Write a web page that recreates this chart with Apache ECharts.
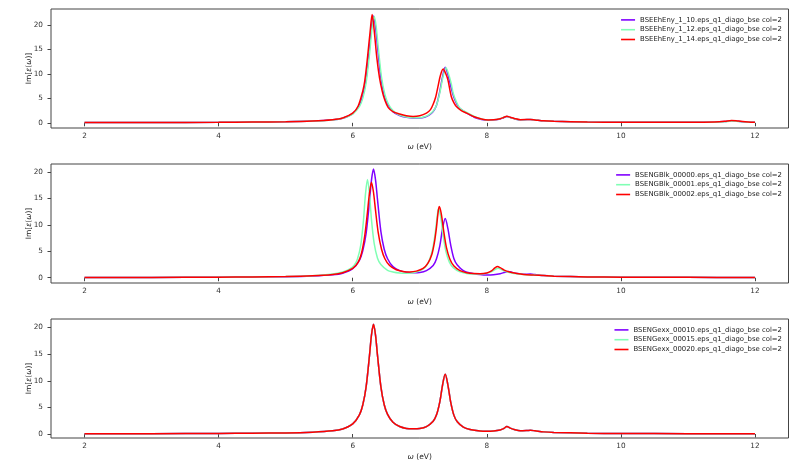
<!DOCTYPE html>
<html>
<head>
<meta charset="utf-8">
<script src="https://cdn.jsdelivr.net/npm/echarts@6/dist/echarts.min.js"></script>
<style>
html, body { margin: 0; padding: 0; background: #fff; }
#main { width: 800px; height: 474px; }
</style>
</head>
<body>
<div id="main"></div>
<script>
// [omega (eV), Im eps]
var ehEny_1_10 = [
    [2.0,0.05],[3.0,0.07],[4.0,0.11],[4.5,0.16],[5.0,0.23],[5.4,0.37],[5.7,0.62],[5.85,0.95],[6.0,1.9],
    [6.1,3.6],[6.15,5.5],[6.2,9.0],[6.25,15.2],[6.28,19.6],[6.31,21.9],[6.34,19.7],[6.37,15.6],[6.42,9.3],
    [6.47,5.8],[6.52,3.9],[6.6,2.3],[6.7,1.5],[6.8,1.15],[6.9,1.0],[7.0,1.0],[7.07,1.15],[7.14,1.6],[7.2,2.3],
    [7.25,3.6],[7.3,6.5],[7.34,9.4],[7.38,11.4],[7.42,9.9],[7.46,7.7],[7.5,5.6],[7.55,3.9],[7.6,2.9],[7.7,2.0],
    [7.82,1.1],[7.92,0.7],[8.02,0.56],[8.12,0.62],[8.2,0.8],[8.25,1.05],[8.3,1.3],[8.35,1.1],[8.42,0.8],[8.5,0.62],
    [8.6,0.66],[8.65,0.68],[8.72,0.58],[8.85,0.4],[9.0,0.3],[9.5,0.17],[10.0,0.12],[10.5,0.1],[11.0,0.1],
    [11.4,0.14],[11.55,0.25],[11.65,0.4],[11.75,0.3],[11.9,0.14],[12.0,0.1]
];
var ehEny_1_12 = [
    [2.0,0.05],[3.0,0.07],[4.0,0.11],[4.5,0.16],[5.0,0.23],[5.4,0.36],[5.7,0.6],[5.85,0.92],[6.0,1.8],
    [6.1,3.3],[6.15,5.0],[6.2,8.2],[6.25,14.0],[6.29,19.6],[6.32,21.8],[6.35,19.7],[6.38,15.6],[6.43,9.3],
    [6.48,5.8],[6.53,3.9],[6.6,2.5],[6.7,1.6],[6.8,1.2],[6.9,1.05],[7.0,1.05],[7.07,1.25],[7.14,1.7],[7.2,2.4],
    [7.25,3.6],[7.3,6.2],[7.35,9.6],[7.39,11.3],[7.43,10.0],[7.47,8.0],[7.5,6.0],[7.55,4.2],[7.6,3.0],[7.72,2.0],
    [7.85,1.1],[7.95,0.7],[8.05,0.58],[8.15,0.68],[8.22,0.95],[8.3,1.3],[8.35,1.1],[8.42,0.8],[8.5,0.62],
    [8.6,0.66],[8.65,0.68],[8.72,0.58],[8.85,0.4],[9.0,0.3],[9.5,0.17],[10.0,0.12],[10.5,0.1],[11.0,0.1],
    [11.4,0.13],[11.55,0.22],[11.65,0.35],[11.75,0.27],[11.9,0.13],[12.0,0.1]
];
var ehEny_1_14 = [
    [2.0,0.05],[3.0,0.07],[4.0,0.11],[4.5,0.16],[5.0,0.23],[5.4,0.38],[5.7,0.65],[5.85,1.0],[6.0,2.0],
    [6.08,3.4],[6.15,6.5],[6.18,8.6],[6.22,13.3],[6.26,18.7],[6.29,22.2],[6.32,19.0],[6.36,13.3],[6.4,9.2],
    [6.44,6.5],[6.48,4.6],[6.53,3.1],[6.6,2.3],[6.7,1.8],[6.8,1.45],[6.9,1.3],[7.0,1.45],[7.1,2.0],[7.16,2.7],
    [7.2,3.8],[7.24,5.4],[7.27,7.3],[7.31,9.8],[7.35,11.0],[7.39,10.0],[7.42,8.8],[7.47,5.4],[7.51,4.1],
    [7.55,3.3],[7.62,2.5],[7.7,2.0],[7.8,1.3],[7.92,0.8],[8.02,0.6],[8.1,0.62],[8.2,0.85],[8.25,1.1],[8.3,1.35],
    [8.35,1.15],[8.42,0.85],[8.5,0.65],[8.6,0.68],[8.65,0.7],[8.72,0.6],[8.85,0.4],[9.0,0.3],[9.5,0.17],
    [10.0,0.12],[10.5,0.1],[11.0,0.1],[11.4,0.15],[11.55,0.3],[11.65,0.5],[11.75,0.35],[11.9,0.15],[12.0,0.1]
];

var ngBlk_00000 = [
    [2.0,0.05],[3.0,0.06],[4.0,0.1],[4.5,0.14],[5.0,0.2],[5.4,0.33],[5.7,0.55],[5.85,0.85],[6.0,1.7],
    [6.1,3.3],[6.15,5.1],[6.2,8.4],[6.25,14.4],[6.28,18.5],[6.31,20.6],[6.34,18.6],[6.37,14.8],[6.42,8.8],
    [6.47,5.4],[6.52,3.6],[6.6,2.1],[6.7,1.35],[6.8,1.05],[6.9,0.95],[7.0,1.0],[7.1,1.35],[7.2,2.3],[7.25,3.6],
    [7.3,6.1],[7.34,9.3],[7.38,11.2],[7.42,9.3],[7.46,6.3],[7.51,3.6],[7.56,2.4],[7.65,1.35],[7.75,0.9],
    [7.9,0.6],[8.0,0.5],[8.1,0.55],[8.2,0.75],[8.27,1.05],[8.32,1.2],[8.38,1.0],[8.45,0.8],[8.55,0.65],
    [8.65,0.7],[8.72,0.6],[8.85,0.4],[9.0,0.3],[9.5,0.15],[10.0,0.1],[11.0,0.07],[12.0,0.05]
];
var ngBlk_00001 = [
    [2.0,0.05],[3.0,0.06],[4.0,0.1],[4.5,0.14],[5.0,0.22],[5.4,0.38],[5.7,0.7],[5.85,1.1],[5.95,1.6],
    [6.02,2.3],[6.07,3.5],[6.12,6.2],[6.16,10.8],[6.19,15.8],[6.22,18.6],[6.25,15.9],[6.28,11.0],[6.32,6.5],
    [6.37,3.7],[6.42,2.5],[6.52,1.4],[6.6,1.1],[6.7,0.9],[6.8,0.85],[6.9,0.95],[7.0,1.3],[7.08,2.0],[7.14,3.2],
    [7.19,5.3],[7.23,8.4],[7.26,11.6],[7.28,13.1],[7.31,11.7],[7.35,7.9],[7.39,5.0],[7.44,3.0],[7.5,1.9],
    [7.6,1.1],[7.7,0.8],[7.8,0.7],[7.9,0.72],[8.0,0.85],[8.08,1.2],[8.13,1.6],[8.17,1.8],[8.21,1.6],
    [8.27,1.25],[8.35,0.95],[8.45,0.75],[8.55,0.6],[8.7,0.5],[8.85,0.4],[9.0,0.3],[9.5,0.15],[10.0,0.1],
    [11.0,0.07],[12.0,0.05]
];
var ngBlk_00002 = [
    [2.0,0.05],[3.0,0.06],[4.0,0.1],[4.5,0.14],[5.0,0.21],[5.4,0.36],[5.7,0.62],[5.85,0.95],[6.0,1.75],
    [6.08,2.9],[6.13,4.6],[6.18,8.0],[6.22,12.4],[6.25,16.0],[6.28,18.1],[6.31,16.2],[6.34,12.8],[6.38,8.6],
    [6.43,5.4],[6.48,3.6],[6.55,2.3],[6.65,1.5],[6.75,1.2],[6.85,1.1],[6.95,1.25],[7.05,1.75],[7.12,2.7],
    [7.18,4.4],[7.22,6.8],[7.25,9.6],[7.27,12.0],[7.29,13.5],[7.32,12.2],[7.36,8.6],[7.4,5.6],[7.45,3.5],
    [7.51,2.2],[7.6,1.35],[7.7,0.95],[7.8,0.78],[7.9,0.75],[8.0,0.9],[8.07,1.3],[8.12,1.85],[8.16,2.15],
    [8.2,1.9],[8.26,1.45],[8.34,1.1],[8.45,0.8],[8.55,0.62],[8.7,0.5],[8.85,0.4],[9.0,0.3],[9.5,0.15],
    [10.0,0.1],[11.0,0.07],[12.0,0.05]
];

// the three exx curves lie on top of each other
var ngexx_00010 = [
    [2.0,0.05],[3.0,0.06],[4.0,0.1],[4.5,0.15],[5.0,0.2],[5.4,0.35],[5.7,0.6],[5.85,0.95],[6.0,1.9],
    [6.1,3.6],[6.15,5.45],[6.2,8.85],[6.25,14.7],[6.28,18.6],[6.31,20.6],[6.34,18.6],[6.37,14.75],[6.42,8.9],
    [6.47,5.5],[6.52,3.7],[6.6,2.2],[6.7,1.4],[6.8,1.05],[6.9,1.0],[7.0,1.05],[7.1,1.4],[7.2,2.4],[7.25,3.6],
    [7.3,6.1],[7.34,9.2],[7.38,11.2],[7.42,9.2],[7.46,6.1],[7.51,3.5],[7.56,2.3],[7.65,1.3],[7.75,0.85],
    [7.9,0.55],[8.0,0.5],[8.1,0.55],[8.2,0.75],[8.25,1.0],[8.3,1.4],[8.35,1.1],[8.42,0.8],[8.5,0.62],
    [8.6,0.66],[8.65,0.7],[8.72,0.6],[8.85,0.4],[9.0,0.3],[9.5,0.15],[10.0,0.1],[11.0,0.07],[12.0,0.05]
];
var ngexx_00015 = ngexx_00010;
var ngexx_00020 = ngexx_00010;

var xTicks = [2, 4, 6, 8, 10, 12];
var yTicks = [0, 5, 10, 15, 20];
var colors = ['#8000ff', '#80ffb4', '#ff0000'];

var panels = [
    {
        top: 9, ymin: -1.06, ymax: 23.31,
        names: ['BSEEhEny_1_10.eps_q1_diago_bse col=2', 'BSEEhEny_1_12.eps_q1_diago_bse col=2', 'BSEEhEny_1_14.eps_q1_diago_bse col=2'],
        data: [ehEny_1_10, ehEny_1_12, ehEny_1_14]
    },
    {
        top: 164, ymin: -1.0, ymax: 21.55,
        names: ['BSENGBlk_00000.eps_q1_diago_bse col=2', 'BSENGBlk_00001.eps_q1_diago_bse col=2', 'BSENGBlk_00002.eps_q1_diago_bse col=2'],
        data: [ngBlk_00000, ngBlk_00001, ngBlk_00002]
    },
    {
        top: 319, ymin: -0.75, ymax: 21.6,
        names: ['BSENGexx_00010.eps_q1_diago_bse col=2', 'BSENGexx_00015.eps_q1_diago_bse col=2', 'BSENGexx_00020.eps_q1_diago_bse col=2'],
        data: [ngexx_00010, ngexx_00015, ngexx_00020]
    }
];

var font = 'DejaVu Sans';
var ital = { i: { fontStyle: 'italic', fontFamily: font, fontSize: 7.5, color: '#222' } };

var grid = [], xAxis = [], yAxis = [], legend = [], series = [];
panels.forEach(function (p, k) {
    grid.push({
        left: 51, right: 11.5, top: p.top, height: 119,
        show: true, borderColor: '#444', borderWidth: 1, backgroundColor: '#fff'
    });
    xAxis.push({
        type: 'value', gridIndex: k, min: 1.5, max: 12.5,
        name: '{i|ω} (eV)', nameLocation: 'middle', nameGap: 15, nameMoveOverlap: false,
        nameTextStyle: { fontFamily: font, fontSize: 7.5, color: '#222', rich: ital },
        axisLine: { show: false },
        axisTick: { show: true, length: 3.5, lineStyle: { color: '#444' }, customValues: xTicks },
        axisLabel: { fontFamily: font, fontSize: 7.3, color: '#333', margin: 5, customValues: xTicks },
        splitLine: { show: false }
    });
    yAxis.push({
        type: 'value', gridIndex: k, min: p.ymin, max: p.ymax,
        name: 'Im[{i|ε}({i|ω})]', nameLocation: 'middle', nameGap: 18, nameMoveOverlap: false,
        nameTextStyle: { fontFamily: font, fontSize: 7.5, color: '#222', rich: ital },
        axisLine: { show: false },
        axisTick: { show: true, length: 3.5, lineStyle: { color: '#444' }, customValues: yTicks },
        axisLabel: { fontFamily: font, fontSize: 7.3, color: '#333', margin: 8, customValues: yTicks },
        splitLine: { show: false }
    });
    legend.push({
        data: p.names, orient: 'vertical', right: 18, top: p.top + 6, padding: 0,
        itemGap: 0, itemWidth: 14, itemHeight: 1.6, icon: 'rect',
        textStyle: { fontFamily: font, fontSize: 6.9, color: '#222', lineHeight: 9.8 }
    });
    p.data.forEach(function (d, j) {
        series.push({
            name: p.names[j], type: 'line', xAxisIndex: k, yAxisIndex: k,
            data: d, showSymbol: false, smooth: 0.3,
            color: colors[j], lineStyle: { width: 1.5, color: colors[j] },
            animation: false
        });
    });
});

var myChart = echarts.init(document.getElementById('main'));
myChart.setOption({
    backgroundColor: '#fff',
    animation: false,
    grid: grid,
    xAxis: xAxis,
    yAxis: yAxis,
    legend: legend,
    series: series
});
</script>
</body>
</html>
